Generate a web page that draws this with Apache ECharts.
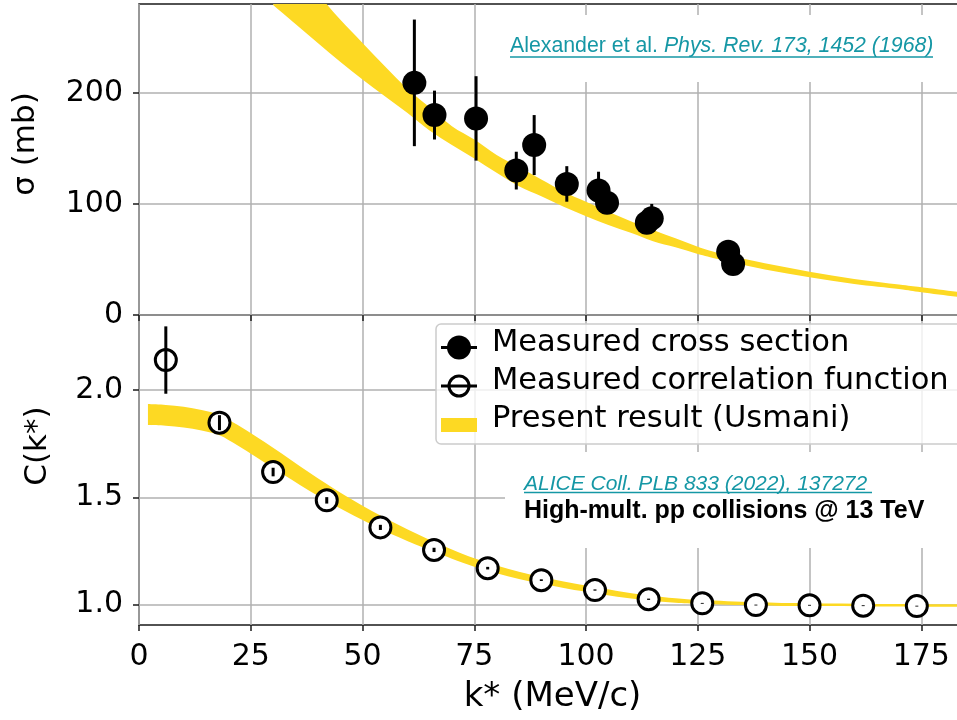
<!DOCTYPE html>
<html>
<head>
<meta charset="utf-8">
<script src="https://cdn.jsdelivr.net/npm/echarts@6/dist/echarts.min.js"></script>
<style>
  html, body { margin: 0; padding: 0; background: #fff; }
  #chart { width: 957px; height: 720px; }
</style>
</head>
<body>
<div id="chart"></div>
<script>
// ---- Axis ticks ----
const kTicks = [0, 25, 50, 75, 100, 125, 150, 175];
const sigmaTicks = [0, 100, 200];
const corrTicks = [1.0, 1.5, 2.0];

// ---- Measured cross section (filled circles) ----
const crossK     = [61.6, 66.1, 75.4, 84.4, 88.4, 95.7, 102.8, 104.7, 113.6, 114.7, 131.8, 132.9];
const crossSigma = [209, 180, 177, 130, 153, 118, 112, 101, 83, 87, 57, 46];
const crossErr   = [57, 22, 38, 17, 27, 16, 17, 10, 8, 13, 5, 4];

// ---- Measured correlation function (open circles) ----
const corrK   = [6, 18, 30, 42, 54, 66, 78, 90, 102, 114, 126, 138, 150, 162, 174];
const corrC   = [2.14, 1.848, 1.618, 1.486, 1.360, 1.255, 1.170, 1.114, 1.068, 1.025, 1.006, 0.998, 0.997, 0.995, 0.993];
const corrErr = [0.157, 0.035, 0.02, 0.015, 0.012, 0.01, 0.006, 0.004, 0.003, 0.003, 0.002, 0.002, 0.002, 0.002, 0.002];

// ---- Present result (Usmani): cross-section band ----
const sigBandK     = [30, 35, 40, 45, 50, 55, 60, 65, 70, 75, 80, 85, 90, 95, 100, 105, 110, 115, 120, 125, 130, 140, 150, 160, 170, 175, 183, 190];
const sigBandUpper = [333, 311, 289, 266, 245, 224, 204, 187, 170, 158, 144, 133, 122, 111, 102, 93, 84.5, 76.5, 69, 61.5, 55.5, 46.5, 39, 32.5, 27.5, 25, 21, 18.5];
const sigBandLower = [279, 262, 245, 228, 212, 197, 182, 166, 153, 141, 128, 116, 107, 97.5, 89, 81, 74, 66.5, 61, 55, 50, 41, 34, 28, 23.5, 20.5, 16.5, 14];

// ---- Present result (Usmani): correlation-function band ----
const corrBandK     = [2, 6, 10, 14, 18, 22, 26, 30, 34, 38, 42, 46, 50, 54, 58, 62, 66, 70, 75, 80, 85, 90, 95, 100, 107, 114, 120, 126, 138, 150, 165, 183, 190];
const corrBandUpper = [1.935, 1.931, 1.922, 1.907, 1.884, 1.838, 1.786, 1.731, 1.674, 1.617, 1.562, 1.510, 1.461, 1.415, 1.372, 1.331, 1.293, 1.257, 1.216, 1.182, 1.153, 1.129, 1.108, 1.089, 1.064, 1.043, 1.030, 1.021, 1.011, 1.006, 1.003, 1.002, 1.001];
const corrBandLower = [1.837, 1.834, 1.826, 1.812, 1.790, 1.743, 1.690, 1.637, 1.584, 1.532, 1.483, 1.437, 1.394, 1.353, 1.315, 1.279, 1.246, 1.214, 1.177, 1.146, 1.120, 1.098, 1.078, 1.060, 1.037, 1.019, 1.009, 1.003, 0.996, 0.993, 0.991, 0.990, 0.989];

const YELLOW = '#fdd923';
const TEAL = '#1597a5';
const GRID_GRAY = '#b0b0b0';
const SPINE = '#1a1a1a';
const TICK_FONT = 'DejaVu Sans';
const K_MAX = 185;

const chart = echarts.init(document.getElementById('chart'), null, { renderer: 'canvas' });

// Catmull-Rom curve through pixel points, written as cubic Bezier segments.
function curveSegments(pts) {
  let d = '';
  for (let i = 0; i < pts.length - 1; i++) {
    const p0 = pts[i - 1] || pts[i];
    const p1 = pts[i];
    const p2 = pts[i + 1];
    const p3 = pts[i + 2] || pts[i + 1];
    const c1 = [p1[0] + (p2[0] - p0[0]) / 6, p1[1] + (p2[1] - p0[1]) / 6];
    const c2 = [p2[0] - (p3[0] - p1[0]) / 6, p2[1] - (p3[1] - p1[1]) / 6];
    d += ' C' + c1[0] + ',' + c1[1] + ' ' + c2[0] + ',' + c2[1] + ' ' + p2[0] + ',' + p2[1];
  }
  return d;
}

// Shaded band between a lower and an upper curve, placed through the axis scales.
function bandSeries(xi, yi, ks, lower, upper) {
  return {
    type: 'custom', xAxisIndex: xi, yAxisIndex: yi, clip: true, silent: true, z: 2,
    data: ks.map((k, i) => [k, lower[i], upper[i]]),
    encode: { x: 0, y: [1, 2] },
    renderItem: function (params, api) {
      if (params.dataIndex !== 0) return null;
      const top = ks.map((k, i) => api.coord([k, upper[i]]));
      const bottom = ks.map((k, i) => api.coord([k, lower[i]])).reverse();
      let d = 'M' + top[0][0] + ',' + top[0][1] + curveSegments(top);
      d += ' L' + bottom[0][0] + ',' + bottom[0][1] + curveSegments(bottom) + ' Z';
      return {
        type: 'path',
        shape: { pathData: d },
        style: { fill: YELLOW, stroke: null }
      };
    }
  };
}

function errorBars(xi, yi, ks, vals, errs, z) {
  return {
    type: 'custom', xAxisIndex: xi, yAxisIndex: yi, z: z, silent: true,
    data: ks.map((k, i) => [k, vals[i] - errs[i], vals[i] + errs[i]]),
    encode: { x: 0, y: [1, 2] },
    renderItem: function (params, api) {
      const p0 = api.coord([api.value(0), api.value(1)]);
      const p1 = api.coord([api.value(0), api.value(2)]);
      return {
        type: 'line',
        shape: { x1: p0[0], y1: p0[1], x2: p1[0], y2: p1[1] },
        style: { stroke: '#000', lineWidth: 3 }
      };
    }
  };
}

function xAxisCfg(gridIndex, showLabels) {
  return {
    type: 'value', gridIndex: gridIndex, min: 0, max: K_MAX, interval: 25,
    axisLine: { show: false },
    axisTick: { show: true, customValues: kTicks, length: 6, lineStyle: { color: SPINE, width: 1.5 } },
    axisLabel: {
      show: showLabels, customValues: kTicks, margin: 17,
      fontFamily: TICK_FONT, fontSize: 30, color: '#000'
    },
    splitLine: { show: true, lineStyle: { color: GRID_GRAY, width: 1.5 } }
  };
}

const option = {
  animation: false,
  backgroundColor: '#fff',
  grid: [
    { left: 139, top: 4, width: 827, height: 311, show: true, borderColor: SPINE, borderWidth: 1.5,
      outerBoundsMode: 'none', containLabel: false },
    { left: 139, top: 315, width: 827, height: 310, show: true, borderColor: SPINE, borderWidth: 1.5,
      outerBoundsMode: 'none', containLabel: false }
  ],
  xAxis: [
    xAxisCfg(0, false),
    Object.assign(xAxisCfg(1, true), {
      name: 'k* (MeV/c)', nameLocation: 'middle', nameGap: 55,
      nameTextStyle: { fontFamily: TICK_FONT, fontSize: 34, color: '#000' }
    })
  ],
  yAxis: [
    {
      type: 'value', gridIndex: 0, min: 0, max: 280, interval: 100,
      axisLine: { show: false },
      axisTick: { show: true, customValues: sigmaTicks, length: 6, lineStyle: { color: SPINE, width: 1.5 } },
      axisLabel: { customValues: sigmaTicks, margin: 16, fontFamily: TICK_FONT, fontSize: 30, color: '#000' },
      splitLine: { show: true, lineStyle: { color: GRID_GRAY, width: 1.5 } }
    },
    {
      type: 'value', gridIndex: 1, min: 0.905, max: 2.35,
      axisLine: { show: false },
      axisTick: { show: true, customValues: corrTicks, length: 6, lineStyle: { color: SPINE, width: 1.5 } },
      axisLabel: {
        customValues: corrTicks, margin: 16, fontFamily: TICK_FONT, fontSize: 30, color: '#000',
        formatter: v => v.toFixed(1)
      },
      splitLine: { show: true, lineStyle: { color: GRID_GRAY, width: 1.5 } }
    }
  ],
  series: [
    bandSeries(0, 0, sigBandK, sigBandLower, sigBandUpper),
    bandSeries(1, 1, corrBandK, corrBandLower, corrBandUpper),
    errorBars(0, 0, crossK, crossSigma, crossErr, 4),
    {
      type: 'scatter', xAxisIndex: 0, yAxisIndex: 0, z: 5, silent: true,
      data: crossK.map((k, i) => [k, crossSigma[i]]),
      symbol: 'circle', symbolSize: 24,
      itemStyle: { color: '#000', opacity: 1 }
    },
    {
      type: 'scatter', xAxisIndex: 1, yAxisIndex: 1, z: 5, silent: true,
      data: corrK.map((k, i) => [k, corrC[i]]),
      symbol: 'circle', symbolSize: 21,
      itemStyle: { color: '#fff', borderColor: '#000', borderWidth: 3, opacity: 1 }
    },
    errorBars(1, 1, corrK, corrC, corrErr, 6)
  ],
  graphic: [
    // axis titles
    { type: 'text', x: 26, y: 144, rotation: Math.PI / 2, z: 20,
      style: { text: 'σ (mb)', font: '31px "DejaVu Sans"', fill: '#000', align: 'center', verticalAlign: 'middle' } },
    { type: 'text', x: 38, y: 446, rotation: Math.PI / 2, z: 20,
      style: { text: 'C(k*)', font: '31px "DejaVu Sans"', fill: '#000', align: 'center', verticalAlign: 'middle' } },

    // reference for the cross-section data
    { type: 'rect', z: 1, shape: { x: 500, y: 15, width: 470, height: 67 }, style: { fill: '#fff' } },
    { type: 'text', x: 510, y: 46.5, z: 20,
      style: {
        text: '{a|Alexander et al. }{b|Phys. Rev. 173, 1452 (1968)}',
        verticalAlign: 'middle',
        rich: {
          a: { fontFamily: 'Liberation Sans', fontSize: 21.3, fill: TEAL, color: TEAL },
          b: { fontFamily: 'Liberation Sans', fontSize: 21.3, fontStyle: 'italic', fill: TEAL, color: TEAL }
        }
      } },
    { type: 'line', z: 20, shape: { x1: 510, y1: 57, x2: 933, y2: 57 }, style: { stroke: TEAL, lineWidth: 1.5 } },

    // reference for the correlation data
    { type: 'rect', z: 1, shape: { x: 505, y: 452, width: 470, height: 96 }, style: { fill: '#fff' } },
    { type: 'text', x: 524, y: 484, z: 20,
      style: { text: 'ALICE Coll. PLB 833 (2022), 137272', font: 'italic 21px "Liberation Sans"', fill: TEAL, verticalAlign: 'middle' } },
    { type: 'line', z: 20, shape: { x1: 524, y1: 492.5, x2: 872, y2: 492.5 }, style: { stroke: TEAL, lineWidth: 1.5 } },
    { type: 'text', x: 524, y: 511, z: 20,
      style: { text: 'High-mult. pp collisions @ 13 TeV', font: 'bold 25px "Liberation Sans"', fill: '#000', verticalAlign: 'middle' } },

    // legend
    { type: 'rect', z: 30, shape: { x: 436, y: 324, width: 540, height: 120, r: 5 },
      style: { fill: 'rgba(255,255,255,0.8)', stroke: '#cccccc', lineWidth: 1.5 } },
    { type: 'line', z: 31, shape: { x1: 441, y1: 347.5, x2: 477, y2: 347.5 }, style: { stroke: '#000', lineWidth: 3 } },
    { type: 'circle', z: 32, shape: { cx: 459, cy: 347.5, r: 12 }, style: { fill: '#000' } },
    { type: 'text', x: 492, y: 343, z: 31,
      style: { text: 'Measured cross section', font: '30.5px "DejaVu Sans"', fill: '#000', verticalAlign: 'middle' } },
    { type: 'line', z: 31, shape: { x1: 441, y1: 386, x2: 477, y2: 386 }, style: { stroke: '#000', lineWidth: 3 } },
    { type: 'circle', z: 32, shape: { cx: 459, cy: 386, r: 10 }, style: { fill: 'none', stroke: '#000', lineWidth: 3 } },
    { type: 'text', x: 492, y: 381, z: 31,
      style: { text: 'Measured correlation function', font: '30.5px "DejaVu Sans"', fill: '#000', verticalAlign: 'middle' } },
    { type: 'rect', z: 31, shape: { x: 441, y: 418, width: 36, height: 14 }, style: { fill: YELLOW } },
    { type: 'text', x: 492, y: 419, z: 31,
      style: { text: 'Present result (Usmani)', font: '30.5px "DejaVu Sans"', fill: '#000', verticalAlign: 'middle' } }
  ]
};

chart.setOption(option);
</script>
</body>
</html>
